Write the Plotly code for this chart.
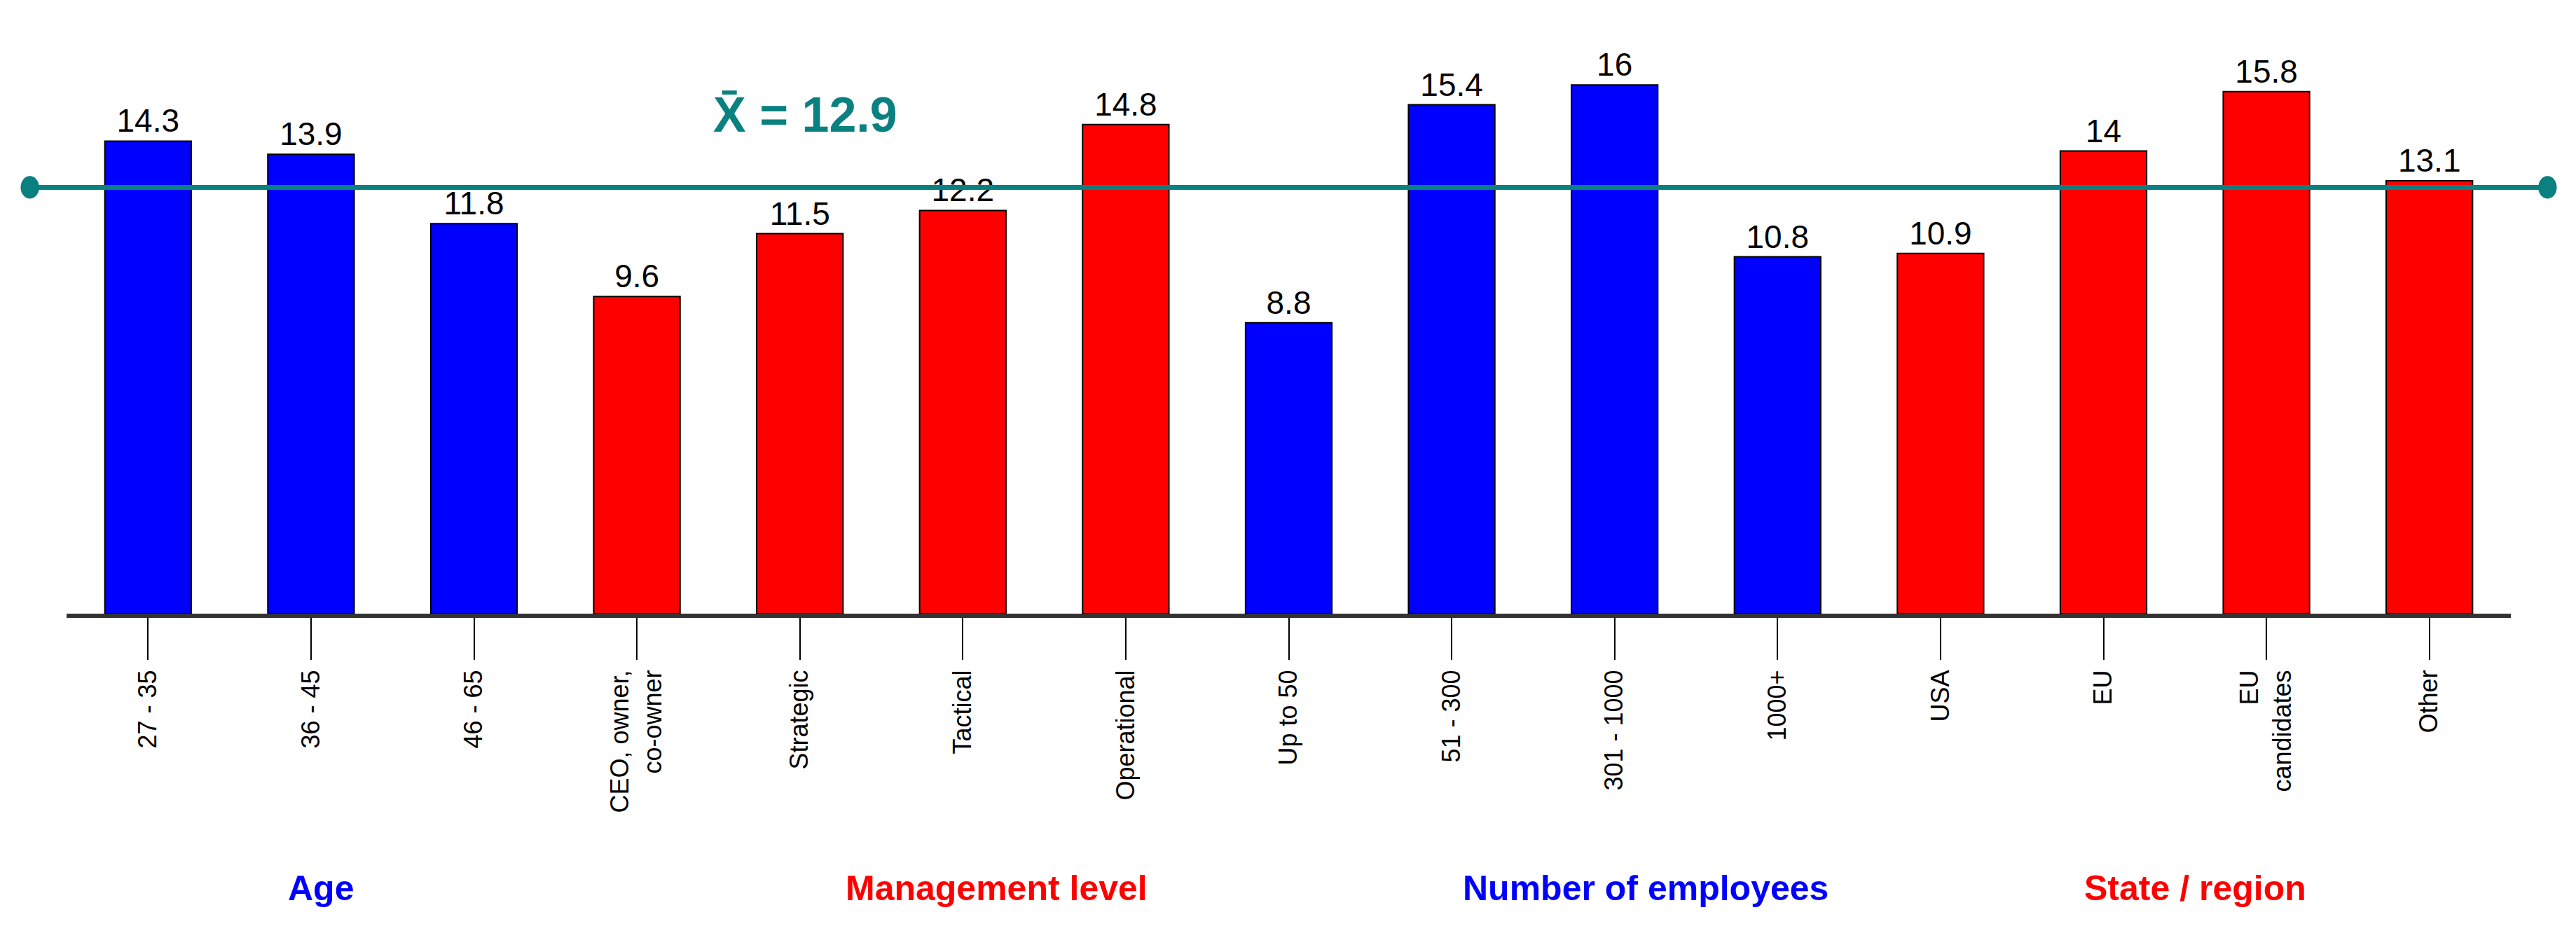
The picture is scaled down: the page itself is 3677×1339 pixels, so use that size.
import plotly.graph_objects as go

categories = ["27 - 35", "36 - 45", "46 - 65", "CEO, owner,<br>co-owner", "Strategic", "Tactical",
              "Operational", "Up to 50", "51 - 300", "301 - 1000", "1000+", "USA", "EU",
              "EU<br>candidates", "Other"]
values = [14.3, 13.9, 11.8, 9.6, 11.5, 12.2, 14.8, 8.8, 15.4, 16, 10.8, 10.9, 14, 15.8, 13.1]
colors = ["blue"] * 3 + ["red"] * 4 + ["blue"] * 4 + ["red"] * 4
mean_value = 12.9
groups = ["Age", "Management level", "Number of employees", "State / region"]
group_colors = ["blue", "red", "blue", "red"]
group_x = [0.09, 0.318, 0.646, 0.917]
teal = "#0a8080"

fig = go.Figure(go.Bar(
    x=list(range(len(categories))), y=values, marker_color=colors,
    marker_line=dict(color="black", width=2), width=0.53,
    text=[str(v) for v in values], textposition="outside", cliponaxis=False,
    textfont=dict(size=46, color="black", family="Liberation Sans Narrow, Liberation Sans"),
))
fig.update_layout(
    width=3677, height=1339, plot_bgcolor="white", paper_bgcolor="white",
    margin=dict(l=87, r=101, t=0, b=471), showlegend=False, bargap=0.47,
    font=dict(family="Liberation Sans Narrow, Liberation Sans"),
)
fig.update_xaxes(
    tickmode="array", tickvals=list(range(len(categories))), ticktext=categories,
    tickangle=-90, tickfont=dict(size=36, color="black"),
    showline=True, linecolor="#333", linewidth=6, ticks="outside", tickson="boundaries",
    ticklen=60, tickcolor="black", tickwidth=2, range=[-0.5, len(categories) - 0.5],
)
fig.update_yaxes(range=[0, 18.4], visible=False)
fig.add_shape(type="line", xref="paper", yref="y", x0=-0.015, x1=1.015, y0=mean_value, y1=mean_value,
              line=dict(color=teal, width=7))
for xp in (-0.015, 1.015):
    fig.add_shape(type="circle", xref="paper", yref="y", x0=xp - 0.0035, x1=xp + 0.0035,
                  y0=mean_value - 0.32, y1=mean_value + 0.32, fillcolor=teal, line_color=teal)
fig.add_annotation(xref="paper", yref="y", x=0.264, y=15.1, text="<b>X̄ = 12.9</b>", showarrow=False,
                   font=dict(size=70, color=teal, family="Liberation Sans"))
for g, c, gx in zip(groups, group_colors, group_x):
    fig.add_annotation(xref="paper", yref="paper", x=gx, y=-0.486, text=f"<b>{g}</b>", showarrow=False,
                       font=dict(size=50, color=c, family="Liberation Sans"))
fig.write_html("out.html")
